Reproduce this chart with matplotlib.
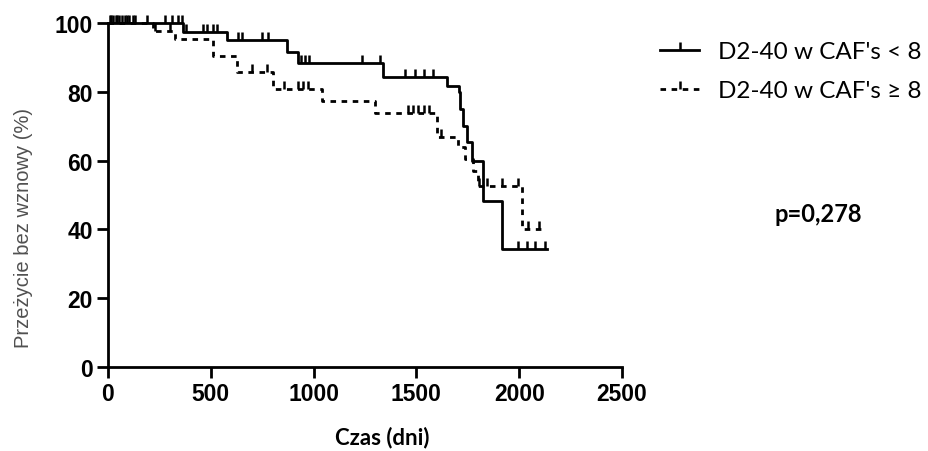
import numpy as np
import matplotlib
matplotlib.use('Agg')
import matplotlib.pyplot as plt
from matplotlib.lines import Line2D

# Kaplan-Meier steps (time in days, survival in %)
low_t = [0, 365, 579, 870, 924, 1338, 1649, 1707, 1712, 1727, 1746, 1770, 1824, 1916, 2135]
low_s = [100, 97.4, 95, 91.6, 88.4, 84.3, 81.7, 80, 75, 70, 65.4, 60, 48.3, 34.3, 34.3]
low_cens = [10, 25, 40, 55, 70, 85, 100, 130, 190, 277, 311, 340, 358, 380, 462, 481, 511,
            530, 632, 652, 749, 778, 940, 960, 980, 1235, 1323, 1445, 1493, 1537, 1581,
            1994, 2038, 2077, 2125]

high_t = [0, 219, 326, 511, 627, 803, 1041, 1299, 1600, 1702, 1736, 1775, 1800, 2014, 2106]
high_s = [100, 97.7, 95.3, 90.5, 85.7, 80.8, 77.3, 73.8, 67, 64, 60.5, 57, 52.6, 40.1, 40.1]
high_cens = [15, 45, 90, 120, 230, 300, 700, 773, 856, 924, 948, 972, 1459, 1483, 1508,
             1537, 1561, 1620, 1805, 1844, 1917, 1993, 2043, 2096]

labels = ["D2-40 w CAF's < 8", "D2-40 w CAF's \u2265 8"]
p_text = 'p=0,278'


def level_at(t, times, surv):
    idx = np.searchsorted(times, t, side='right') - 1
    return np.array(surv)[idx]


tick_marker = [(0, 0), (0, 1)]

fig = plt.figure(figsize=(9.29, 4.52), dpi=100)
ax = fig.add_axes([108 / 929, 1 - 368 / 452, (622 - 108) / 929, (368 - 24) / 452])

ax.step(low_t, low_s, where='post', color='black', lw=2, clip_on=False)
ax.plot(low_cens, level_at(low_cens, low_t, low_s), linestyle='none', marker=tick_marker,
        markersize=12, markeredgewidth=1.8, color='black', clip_on=False)

ax.step(high_t, high_s, where='post', color='black', lw=2, linestyle=(0, (2, 2)), clip_on=False)
ax.plot(high_cens, level_at(high_cens, high_t, high_s), linestyle='none', marker=tick_marker,
        markersize=12, markeredgewidth=1.8, color='black', clip_on=False)

ax.set_xlim(0, 2500)
ax.set_ylim(0, 100)
ax.set_xticks(np.arange(0, 2501, 500))
ax.set_yticks(np.arange(0, 101, 20))
for s in ['top', 'right']:
    ax.spines[s].set_visible(False)
for s in ['left', 'bottom']:
    ax.spines[s].set_linewidth(2)
ax.tick_params(direction='out', length=8, width=2, labelsize=16.5, pad=3)
for lab in ax.get_xticklabels() + ax.get_yticklabels():
    lab.set_family('Liberation Sans')
    lab.set_fontweight('bold')

# axis titles placed where they sit in the picture
fig.text(24 / 929, 1 - 228 / 452, 'Przeżycie bez wznowy (%)', fontsize=14.5, color='#505050',
         family='Liberation Sans', rotation=90, ha='center', va='center')
fig.text(382 / 929, 1 - 438 / 452, 'Czas (dni)', fontsize=16, fontweight='bold',
         family='Lato', ha='center', va='center')

handles = [
    Line2D([0], [0], color='black', lw=2, marker=tick_marker, markersize=12, markeredgewidth=1.8),
    Line2D([0], [0], color='black', lw=2, linestyle=(0, (2, 2)), marker=tick_marker,
           markersize=12, markeredgewidth=1.8),
]
fig.legend(handles, labels, loc='upper left', bbox_to_anchor=(648 / 929, 1 - 30 / 452),
           frameon=False, numpoints=1, handlelength=1.6, handletextpad=0.8,
           labelspacing=0.75, borderpad=0, prop={'family': 'Lato', 'size': 17.5})

fig.text(818 / 929, 1 - 215 / 452, p_text, fontsize=17, fontweight='bold',
         family='Lato', ha='center', va='center')

fig.savefig('out.png', dpi=100)
